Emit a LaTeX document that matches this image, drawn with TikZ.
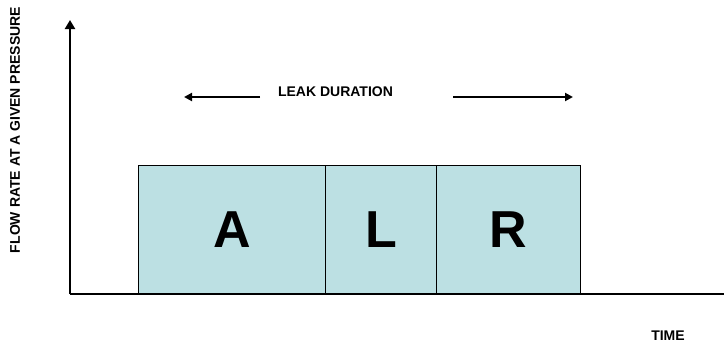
\documentclass[tikz,border=0pt]{standalone}
\usepackage{fontspec}
\setmainfont{Liberation Sans}
\usetikzlibrary{arrows.meta}
\definecolor{boxfill}{RGB}{188,224,227}
\begin{document}
\begin{tikzpicture}[x=1pt,y=-1pt,
  axis/.style={line width=2.6pt},
  seg/.style={draw=black,line width=0.9pt,fill=boxfill,inner sep=0pt,
    font=\bfseries\fontsize{52}{52}\selectfont},
  dur/.style={line width=2pt,-{Triangle[length=8pt,width=8pt]}},
  lbl/.style={font=\bfseries\fontsize{14}{14}\selectfont,inner sep=0pt}]
\useasboundingbox (0,0) rectangle (724,343);
% axes
\coordinate (origin) at (70,294);
\coordinate (ytop) at (70,20);
\coordinate (xend) at (724,294);
% boxes
\node[seg,minimum width=187.4pt,minimum height=128.3pt] (A) at (232,229.8) {A};
\node[seg,minimum width=111pt,minimum height=128.3pt] (L) at (381.2,229.8) {L};
\node[seg,minimum width=143.6pt,minimum height=128.3pt] (R) at (508.5,229.8) {R};
\draw[axis,-{Triangle[length=9pt,width=10pt]}] (origin) -- (ytop);
\draw[axis] (origin) -- (xend);
% leak duration
\node[lbl] (leak) at (335.5,92) {LEAK DURATION};
\coordinate (la) at (260,97);
\coordinate (lb) at (184,97);
\coordinate (ra) at (453,97);
\coordinate (rb) at (573,97);
\draw[dur] (la) -- (lb);
\draw[dur] (ra) -- (rb);
% labels
\node[lbl] (time) at (668,335.5) {TIME};
\node[lbl,rotate=90] (ylab) at (15,130) {FLOW RATE AT A GIVEN PRESSURE};
\end{tikzpicture}
\end{document}
